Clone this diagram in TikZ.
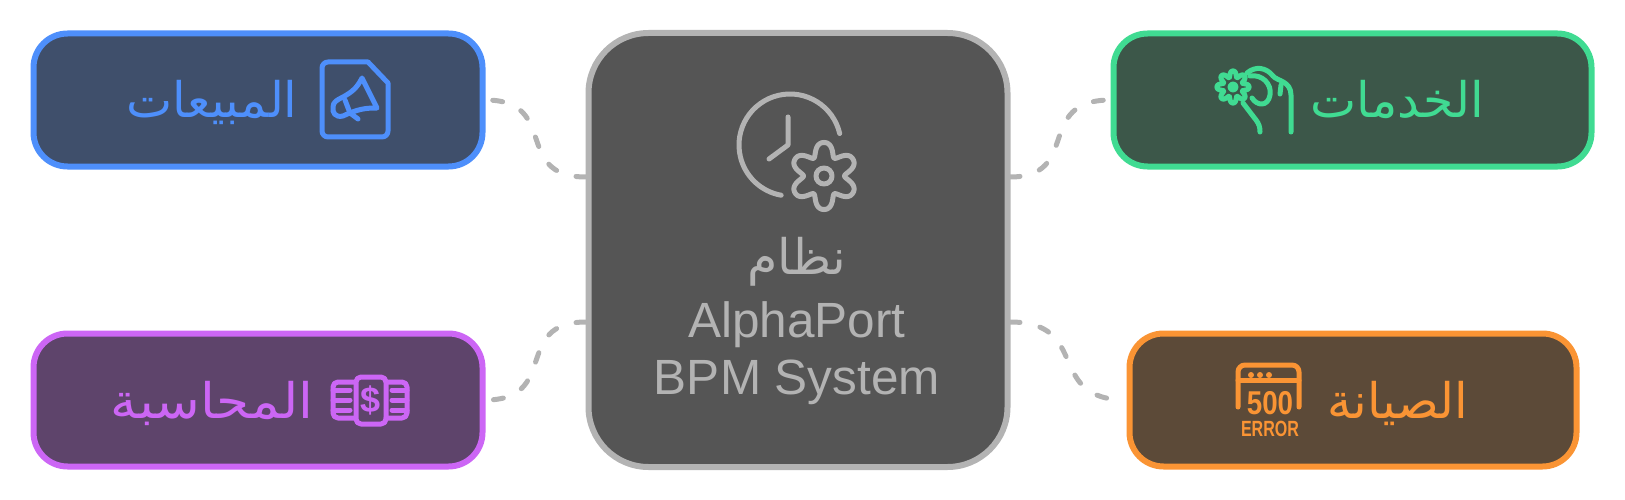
\documentclass[tikz,border=0pt]{standalone}
\usepackage{fontspec}
\setmainfont{Liberation Sans}
\newfontfamily\arabicfont[Script=Arabic]{DejaVu Sans}
\TeXXeTstate=1

\definecolor{coreLine}{HTML}{B3B3B3}
\definecolor{coreFill}{HTML}{555555}
\definecolor{salesLine}{HTML}{4E8FFB}
\definecolor{salesFill}{HTML}{3F4F6B}
\definecolor{serviceLine}{HTML}{40DB92}
\definecolor{serviceFill}{HTML}{3C5749}
\definecolor{financeLine}{HTML}{CC66F5}
\definecolor{financeFill}{HTML}{5E446B}
\definecolor{repairLine}{HTML}{FA9434}
\definecolor{repairFill}{HTML}{5C4A38}

% gear: center x, center y, mean radius, amplitude, lobes, phase, colour
\newcommand{\gearIcon}[7]{%
  \draw[iconLine=#7] plot[domain=0:360, samples=145]
    ({#1+(#3+#4*cos(#5*\x+#6)-0.15*#4*cos(2*#5*\x+2*#6))*cos(\x)},
     {#2+(#3+#4*cos(#5*\x+#6)-0.15*#4*cos(2*#5*\x+2*#6))*sin(\x)}) -- cycle;
}

\begin{document}
\begin{tikzpicture}[x=1pt, y=-1pt,
    boxNode/.style={rectangle, rounded corners=34pt, line width=6pt, inner sep=0pt,
      minimum width=#1, minimum height=133pt},
    arabicLabel/.style={font=\arabicfont\fontsize{49}{58}\selectfont, anchor=base, inner sep=0pt},
    latinLabel/.style={font=\fontsize{49.5}{58}\selectfont, text=coreLine, anchor=base, inner sep=0pt},
    iconLine/.style={line width=5pt, line cap=round, line join=round, draw=#1},
    linkLine/.style={line width=5pt, line cap=round, draw=coreLine, dash pattern=on 10pt off 20.5pt}]

    \useasboundingbox (0,0) rectangle (1625,500);

    % 1. Khung chính
    \node[boxNode=419pt, rounded corners=60pt, minimum height=434pt, draw=coreLine, fill=coreFill] (core) at (798,250) {};
    \node[boxNode=449pt, draw=salesLine, fill=salesFill] (sales) at (258,100) {};
    \node[boxNode=478pt, draw=serviceLine, fill=serviceFill] (service) at (1352.5,100) {};
    \node[boxNode=449pt, draw=financeLine, fill=financeFill] (finance) at (258,400) {};
    \node[boxNode=447pt, draw=repairLine, fill=repairFill] (repair) at (1353,400) {};

    % 2. Điểm nối trên khung chính
    \coordinate (coreNW) at (586,177);
    \coordinate (coreNE) at (1010,177);
    \coordinate (coreSW) at (586,322);
    \coordinate (coreSE) at (1010,322);

    % 3. Đường nối nét đứt
    \draw[linkLine] (coreNW) .. controls (512,177) and (560,100) .. (sales.east);
    \draw[linkLine] (coreNE) .. controls (1082,177) and (1034,100) .. (service.west);
    \draw[linkLine] (coreSW) .. controls (512,322) and (560,400) .. (finance.east);
    \draw[linkLine] (coreSE) .. controls (1092,322) and (1044,400) .. (repair.west);

    % 4. Nhãn
    \node[arabicLabel, text=coreLine] (coreAr) at (797,274) {\beginR نظام\endR};
    \node[latinLabel] (coreName) at (797,337) {AlphaPort};
    \node[latinLabel] (coreKind) at (797,394) {BPM System};
    \node[arabicLabel, text=salesLine] (salesText) at (212,118) {\beginR المبيعات\endR};
    \node[arabicLabel, text=serviceLine] (serviceText) at (1397,118) {\beginR الخدمات\endR};
    \node[arabicLabel, text=financeLine, xscale=1.09] (financeText) at (212,418) {\beginR المحاسبة\endR};
    \node[arabicLabel, text=repairLine] (repairText) at (1398,418) {\beginR الصيانة\endR};

    % 5. Biểu tượng: đồng hồ và bánh răng
    \draw[iconLine=coreLine] (790,145) ++(-13:51) arc (-13:-260:51);
    \draw[iconLine=coreLine] (788,117) -- (788,145) -- (769,159);
    \gearIcon{824}{176}{28}{6.5}{6}{180}{coreLine}
    \draw[iconLine=coreLine] (824,176) circle (8);

    % 6. Biểu tượng: tài liệu và loa
    \draw[iconLine=salesLine] (368,62) -- (328,62) arc (-90:-180:6) -- (322,131) arc (180:90:6)
      -- (382,137) arc (90:0:6) -- (388,83) -- cycle;
    \draw[iconLine=salesLine] (362,78) -- (377,108) .. controls (365,108) and (358,109) .. (343,116)
      .. controls (335,118) and (332,112) .. (333,107) .. controls (333,102) and (337,100) .. (343,97)
      .. controls (352,92) and (357,88) .. (362,78) -- cycle;
    \draw[iconLine=salesLine] (345,100) -- (350,113) -- (358,119);

    % 7. Biểu tượng: bàn tay và bông hoa
    \gearIcon{1233}{87}{13.5}{3}{8}{0}{serviceLine}
    \draw[iconLine=serviceLine] (1233,87) circle (3);
    \draw[iconLine=serviceLine] (1247,73) .. controls (1255,66) and (1266,67) .. (1273,76)
      .. controls (1277,81) and (1291,81) .. (1291,95) -- (1291,132);
    \draw[iconLine=serviceLine] (1281,85) -- (1280,94);
    \draw[iconLine=serviceLine] (1250,76) .. controls (1262,74) and (1272,84) .. (1270,95)
      .. controls (1268,107) and (1257,106) .. (1252,98);
    \draw[iconLine=serviceLine] (1243,103) -- (1256,120) .. controls (1259,124) and (1260,127) .. (1260,132);

    % 8. Biểu tượng: tiền
    \draw[iconLine=financeLine] (355,382) -- (338,382) arc (-90:-180:5) -- (333,413) arc (180:90:5) -- (355,418);
    \draw[iconLine=financeLine] (386,382) -- (402,382) arc (-90:0:5) -- (407,413) arc (0:90:5) -- (386,418);
    \draw[iconLine=financeLine, rounded corners=5pt] (356,377) rectangle (386,424);
    \foreach \y in {390,400,410} {
      \draw[iconLine=financeLine] (333,\y) -- (350,\y);
      \draw[iconLine=financeLine] (392,\y) -- (407,\y);
    }
    \node[font=\bfseries\fontsize{36}{40}\selectfont, text=financeLine, inner sep=0pt] (financeSign) at (370.5,400) {\$};

    % 9. Biểu tượng: cửa sổ lỗi
    \draw[iconLine=repairLine] (1238,407) -- (1238,372) arc (180:270:7) -- (1292,365) arc (-90:0:7) -- (1299,407);
    \draw[iconLine=repairLine] (1238,380) -- (1299,380);
    \foreach \x in {1251,1260,1269} {
      \fill[repairLine] (\x,375) circle (3);
    }
    \node[font=\bfseries\fontsize{33}{36}\selectfont, text=repairLine, inner sep=0pt, xscale=0.84] (repairCode) at (1270,403) {500};
    \node[font=\bfseries\fontsize{22}{24}\selectfont, text=repairLine, inner sep=0pt, xscale=0.73] (repairWord) at (1270,429) {ERROR};

\end{tikzpicture}
\end{document}
